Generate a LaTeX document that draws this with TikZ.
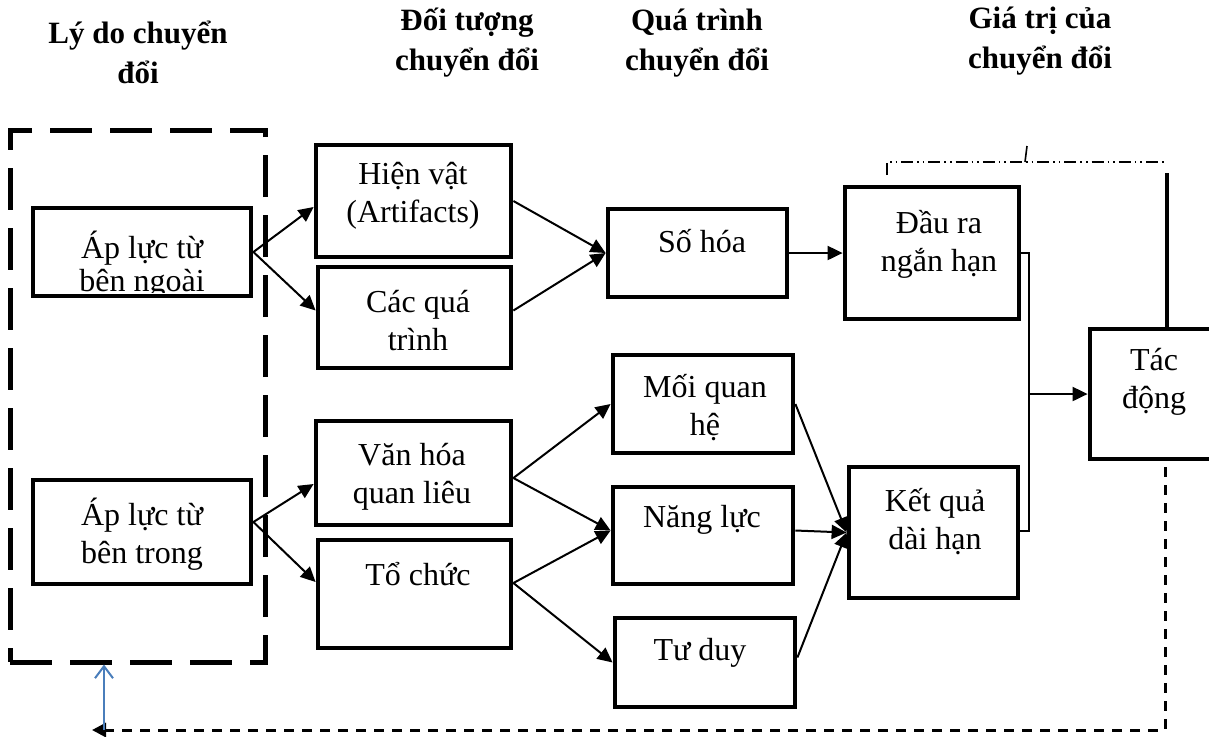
\documentclass[tikz,border=0pt]{standalone}
\usepackage{fontspec}
\setmainfont{Liberation Serif}
\usepackage{xcolor}
\usetikzlibrary{arrows.meta}
\definecolor{fbblue}{RGB}{74,126,187}

\begin{document}
\begin{tikzpicture}[x=0.5pt, y=-0.5pt,
  box/.style={draw, line width=2.4pt, inner sep=0pt},
  group/.style={draw, line width=2.5pt, dash pattern=on 21pt off 9pt, inner sep=0pt},
  txt/.style={align=center, inner sep=0pt, font=\fontsize{16}{19}\selectfont},
  hd/.style={align=center, inner sep=0pt, font=\fontsize{15.5}{20}\selectfont\bfseries},
  arr/.style={line width=1pt, -{Triangle[length=7.5pt, width=7pt]}},
  ln/.style={line width=1pt}]
  \useasboundingbox (0,0) rectangle (1209,736);
  \fill[white] (0,0) rectangle (1209,736);

  \node[hd] (h1) at (138,52) {Lý do chuyển\\đổi};
  \node[hd] (h2) at (467,43) {Đối tượng\\chuyển đổi};
  \node[hd] (h3) at (697,43) {Quá trình\\chuyển đổi};
  \node[hd] (h4) at (1040,41) {Giá trị của\\chuyển đổi};

  \node[group, minimum width=127.5pt, minimum height=266pt] (reason) at (137.5,396) {};
  \node[box, minimum width=109pt, minimum height=44pt] (ngoai) at (142,252) {};
  \node[box, minimum width=109pt, minimum height=52pt] (trong) at (142,532) {};
  \node[box, minimum width=97.5pt, minimum height=56pt] (hienvat) at (413.5,201) {};
  \node[box, minimum width=96.5pt, minimum height=50.5pt] (quatrinh) at (414.5,317.5) {};
  \node[box, minimum width=97.5pt, minimum height=52pt] (vanhoa) at (413.5,473) {};
  \node[box, minimum width=96.5pt, minimum height=54pt] (tochuc) at (414.5,594) {};
  \node[box, minimum width=89.5pt, minimum height=44pt] (sohoa) at (697.5,253) {};
  \node[box, minimum width=90pt, minimum height=49pt] (moiqh) at (703,404) {};
  \node[box, minimum width=90pt, minimum height=48.5pt] (nangluc) at (703,535.5) {};
  \node[box, minimum width=90pt, minimum height=44.5pt] (tuduy) at (705,662.5) {};
  \node[box, minimum width=87pt, minimum height=66pt] (daura) at (932,253) {};
  \node[box, minimum width=84.5pt, minimum height=65.5pt] (ketqua) at (933.5,532.5) {};
  \node[box, minimum width=75pt, minimum height=65pt] (tacdong) at (1165,394) {};

  \begin{scope}
    \clip (35,210) rectangle (249,292);
    \node[txt, font=\fontsize{16}{16.5}\selectfont] (ngoai-t) at (142,265) {Áp lực từ\\bên ngoài};
  \end{scope}
  \node[txt] (trong-t) at (142,534) {Áp lực từ\\bên trong};
  \node[txt] (hienvat-t) at (413,196) {Hiện vật\\(Artifacts)};
  \node[txt] (quatrinh-t) at (418,321) {Các quá\\trình};
  \node[txt] (vanhoa-t) at (412,477) {Văn hóa\\quan liêu};
  \node[txt] (tochuc-t) at (418,574) {Tổ chức};
  \node[txt] (sohoa-t) at (702,241) {Số hóa};
  \node[txt] (moiqh-t) at (705,408) {Mối quan\\hệ};
  \node[txt] (nangluc-t) at (702,520) {Năng lực};
  \node[txt] (tuduy-t) at (700,653) {Tư duy};
  \node[txt] (daura-t) at (939,244) {Đầu ra\\ngắn hạn};
  \node[txt] (ketqua-t) at (935,522) {Kết quả\\dài hạn};
  \node[txt] (tacdong-t) at (1154,382) {Tác\\động};

  \draw[arr] (ngoai.east) -- ([yshift=-3pt]hienvat.west);
  \draw[arr] (ngoai.east) -- ([yshift=3.5pt]quatrinh.west);
  \draw[arr] ([yshift=5pt]trong.east) -- ([yshift=-5.5pt]vanhoa.west);
  \draw[arr] ([yshift=5pt]trong.east) -- ([yshift=6pt]tochuc.west);
  \draw[arr] (hienvat.east) -- (sohoa.west);
  \draw[arr] ([yshift=3.5pt]quatrinh.east) -- (sohoa.west);
  \draw[arr] (sohoa.east) -- (daura.west);
  \draw[arr] ([yshift=-2.5pt]vanhoa.east) -- (moiqh.west);
  \draw[arr] ([yshift=-2.5pt]vanhoa.east) -- ([yshift=2.5pt]nangluc.west);
  \draw[arr] ([yshift=5.5pt]tochuc.east) -- ([yshift=2.5pt]nangluc.west);
  \draw[arr] ([yshift=5.5pt]tochuc.east) -- (tuduy.west);
  \draw[arr] (moiqh.east) -- (ketqua.west);
  \draw[arr] ([yshift=2.5pt]nangluc.east) -- (ketqua.west);
  \draw[arr] ([yshift=2.5pt]tuduy.east) -- (ketqua.west);

  \coordinate (j) at (1029,394);
  \draw[ln] (daura.east) -| (j);
  \draw[ln] ([yshift=1pt]ketqua.east) -| (j);
  \draw[arr] (j) -- (tacdong.west);

  \coordinate (dd) at (887,175);
  \draw[line width=0.8pt, dash pattern=on 6pt off 2pt on 0.8pt off 2pt on 0.8pt off 2pt] (dd) |- (1167,162);
  \draw[line width=0.8pt] (1025,162) -- (1027,146);
  \draw[line width=2.2pt] ([xshift=1pt]tacdong.north) -- ++(0,-154);

  \coordinate (fb) at (92,730);
  \coordinate (up) at (104,730);
  \draw[line width=1.5pt, dash pattern=on 5pt off 4pt, -{Triangle[length=7pt, width=7pt]}] ([yshift=-3pt]tacdong.south) |- (fb);
  \draw[fbblue, line width=1pt, -{Straight Barb[length=6pt, width=9pt]}] (up) -- (up |- reason.south);
\end{tikzpicture}
\end{document}
